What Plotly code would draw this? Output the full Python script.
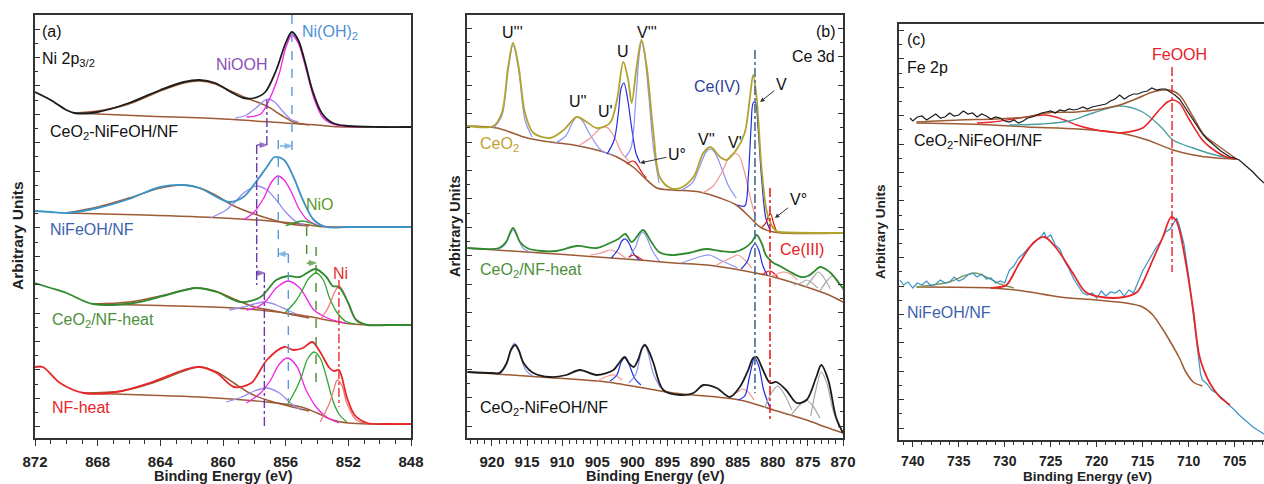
import plotly.graph_objects as go

# ---------------- Panel (a): Ni 2p3/2 ----------------
# 1) CeO2-NiFeOH/NF
a1_E = [872, 871, 870, 869.5, 868, 866, 864, 862.5, 861.5, 860.5, 859.5, 858.7, 858, 857.3, 856.6, 856, 855.6, 855.2, 854.8, 854.3, 853.7, 853, 852, 850, 848]
a1_I = [346, 338, 328, 325, 326, 335, 348, 356, 358, 355, 346, 340, 340, 346, 368, 395, 406, 398, 378, 348, 325, 315, 312, 311, 311]
a1_bg_E = [869.5, 865, 860, 856, 854, 853, 852, 848]
a1_bg_I = [325, 322, 319, 315, 313, 311.5, 311, 311]
a1_sat_E = [869.5, 868, 866, 864, 862.5, 861.5, 860.5, 859.5, 858.5, 857.2, 856.3, 855.5, 854.5]
a1_sat_I = [325, 327, 334, 347, 355, 357, 354, 347, 340, 332, 323, 316, 313]
a1_nooh_E = [859.2, 858.5, 857.9, 857.4, 857.1, 856.7, 856.2, 855.7, 855.2]
a1_nooh_I = [320, 323, 330, 337, 339, 336, 327, 319, 316]
a1_noh_E = [858.5, 857.6, 857.0, 856.4, 856.0, 855.6, 855.2, 854.8, 854.2, 853.6, 852.8, 851.5]
a1_noh_I = [321, 324, 340, 365, 390, 403, 395, 375, 340, 320, 313, 311]

# 2) NiFeOH/NF
a2_E = [872, 871, 870, 868, 866, 864, 862.5, 861.5, 860.4, 859.6, 858.7, 857.9, 857.2, 856.7, 856.1, 855.5, 854.9, 854.2, 853.4, 852, 850, 848]
a2_I = [227, 226, 225, 230, 239, 251, 253, 250, 241, 236, 241, 256, 271, 281, 278, 261, 238, 218, 211, 211, 211, 211]
a2_bg_E = [870, 865, 860, 857, 855, 853.8, 852, 848]
a2_bg_I = [225, 223, 220, 217, 214, 211.5, 211, 211]
a2_sat_E = [870, 868, 866, 864, 862.5, 861.5, 860.5, 859.3, 858, 857, 855.8, 854.5]
a2_sat_I = [225, 231, 240, 250, 253, 250, 243, 232, 224, 219, 214, 212]
a2_nooh_E = [860.8, 859.8, 859.3, 858.6, 857.85, 857.2, 856.6, 856.0, 855.4, 854.8]
a2_nooh_I = [220, 228, 235, 246, 252, 248, 238, 226, 217, 213]
a2_noh_E = [858.7, 858.0, 857.4, 856.9, 856.5, 856.1, 855.7, 855.1, 854.6, 854.0, 853.2]
a2_noh_I = [218, 226, 240, 256, 262, 258, 248, 228, 218, 213, 211]
a2_nio_E = [856.0, 855.3, 854.9, 854.4, 853.8]
a2_nio_I = [212, 216, 217, 215, 211]

# 3) CeO2/NF-heat
a3_E = [872, 871, 870, 868.3, 865.7, 863.6, 861.7, 860.4, 858.9, 857.6, 856.6, 855.85, 855.1, 854.1, 853.4, 853.0, 852.6, 852.0, 851.5, 850.8, 849.5, 848]
a3_I = [155, 150, 145, 134, 135, 143, 150, 146, 136, 141, 158, 162, 161, 169, 161, 152, 151, 135, 118, 113, 113, 113]
a3_bg_E = [868.3, 864, 859.3, 855.1, 853, 851.8, 850.5, 848]
a3_bg_I = [134, 132.5, 130, 123, 117, 114, 113, 113]
a3_sat_E = [868.3, 866, 864, 862.5, 861.7, 860.5, 859.3, 858, 857, 855.5, 854.5]
a3_sat_I = [134, 136, 142, 148, 150, 147, 139, 131, 128, 123, 120]
a3_nooh_E = [859.6, 858.7, 858.0, 857.3, 856.6, 855.9, 855.3]
a3_nooh_I = [128, 131, 134, 136, 133, 128, 124]
a3_noh_E = [858.5, 857.8, 857.2, 856.6, 855.85, 855.1, 854.2, 853.6, 853.0, 852.2]
a3_noh_I = [128, 131, 138, 150, 157, 150, 128, 122, 118, 115]
a3_nio_E = [856.0, 855.4, 855.0, 854.5, 854.05, 853.6, 853.2, 852.7, 852.2, 851.6]
a3_nio_I = [126, 136, 146, 160, 165, 158, 140, 125, 117, 114]
a3_ni_E = [853.8, 853.3, 852.9, 852.6, 852.3, 852.0, 851.6, 851.0]
a3_ni_I = [118, 130, 145, 152, 146, 134, 120, 114]

# 4) NF-heat
a4_E = [872, 871.5, 870.4, 868.9, 866.8, 864.7, 862.5, 861.5, 860.4, 859.3, 858.2, 857.2, 856.1, 855.5, 854.9, 854.3, 853.8, 853.2, 852.9, 852.6, 852.1, 851.6, 850.8, 849.5, 848]
a4_I = [71, 71, 55, 45, 46, 55, 68, 71, 65, 51, 55, 78, 91, 88, 90, 96, 86, 70, 67, 68, 41, 23, 15, 14, 14]
a4_bg_E = [868.9, 865, 861.5, 857.2, 855, 854, 853, 852, 850.5, 848]
a4_bg_I = [45, 43, 41, 36, 31, 25, 18, 15, 14, 14]
a4_sat_E = [868.9, 866.5, 864.5, 862.5, 861.5, 860.4, 859.3, 858.2, 857, 855.8, 854.5]
a4_sat_I = [45, 47, 55, 67, 71, 66, 55, 44, 37, 32, 27]
a4_nooh_E = [859.8, 858.8, 858.0, 857.2, 856.4, 855.7, 855.0]
a4_nooh_I = [36, 41, 47, 50, 45, 35, 28]
a4_noh_E = [858.5, 857.6, 857.0, 856.4, 855.9, 855.3, 854.7, 854.0, 853.4, 852.6]
a4_noh_I = [35, 45, 57, 74, 80, 72, 48, 30, 21, 15]
a4_nio_E = [855.9, 855.3, 855.0, 854.6, 854.2, 853.8, 853.4, 853.0, 852.6, 852.1]
a4_nio_I = [33, 50, 61, 79, 86, 80, 61, 38, 24, 16]
a4_ni_E = [853.8, 853.2, 852.9, 852.7, 852.4, 852.1, 851.5, 850.8]
a4_ni_I = [16, 35, 50, 58, 52, 35, 18, 15]

# reference lines panel (a): energy, top, bottom
a_ref_E = [855.6, 857.2, 857.85, 856.47, 855.83, 857.36, 854.66, 854.06, 852.6]
a_ref_top = [423, 338, 293, 298, 184, 165, 211, 191, 158]
a_ref_bot = [285, 290, 153, 181, 38, 11, 175, 48, 31]
a_ref_style = ["nioh", "niooh", "niooh", "nioh", "nioh", "niooh", "nio", "nio", "ni"]
# shift arrows panel (a): from, to, level
a_arr_from = [856.36, 857.85, 855.83, 857.9, 854.66]
a_arr_to = [855.6, 857.2, 856.47, 857.36, 854.06]
a_arr_I = [292, 293, 184, 165, 175]
a_arr_style = ["nioh", "niooh", "nioh", "niooh", "nio"]

# ---------------- Panel (b): Ce 3d ----------------
b1_E = [923.5, 919.8, 918.6, 917.7, 917.0, 916.2, 915.3, 914.1, 911.7, 909.8, 907.9, 906.5, 905.1, 903.2, 902.2, 901.3, 900.6, 900.1, 899.4, 898.7, 897.96, 897.0, 896.1, 894.6, 893.2, 891.3, 889.9, 888.9, 887.5, 886.6, 885.2, 884.0, 883.3, 882.8, 882.3, 881.6, 880.9, 880.2, 879.5, 879.0, 870.0]
b1_I = [312, 312, 325, 371, 395, 371, 325, 305, 300, 308, 321, 316, 310, 315, 338, 376, 358, 335, 371, 398, 371, 305, 261, 250, 250, 261, 285, 291, 281, 278, 288, 305, 338, 363, 340, 270, 228, 213, 207, 206, 205]
b1_bg_E = [923.5, 919.3, 915.0, 911.7, 908.4, 905.1, 902.2, 899.9, 898.4, 896.5, 894.2, 890.4, 887.5, 885.2, 883.3, 881.8, 879.9, 870]
b1_bg_I = [312, 310, 300, 296, 293, 288, 281, 271, 261, 250, 248, 246, 240, 233, 221, 211, 206, 205]
b1_comps = {
    "U3": ([919.8, 918.6, 917.7, 917.0, 916.2, 915.3, 914.3], [310, 322, 368, 393, 368, 318, 301], "lb"),
    "U2": ([911, 909.5, 908.5, 907.9, 907.2, 906, 904.5, 903], [295, 302, 316, 321, 318, 303, 288, 283], "lb"),
    "U1": ([907.5, 906, 905, 904.3, 903.5, 902.5, 901.5, 900.5], [293, 300, 307, 311, 310, 300, 285, 277], "lr"),
    "U": ([903.6, 902.6, 902.0, 901.6, 901.2, 900.7, 900.1, 899.5, 898.9], [284, 298, 325, 350, 355, 340, 310, 285, 275], "db"),
    "V3": ([901, 900.2, 899.5, 899.0, 898.7, 898.3, 897.7, 897.0, 896.2], [281, 290, 340, 385, 396, 385, 345, 290, 255], "lb"),
    "U0": ([900.8, 900.0, 899.6, 899.2, 898.6, 898.0], [274, 277, 276, 272, 265, 260], "rd"),
    "V2": ([893, 891.5, 890.5, 889.5, 888.9, 888.3, 887.3, 886.3, 885.2], [248, 255, 270, 286, 289, 286, 270, 252, 240], "lb"),
    "V1": ([890, 888.5, 887.3, 886.3, 885.5, 884.8, 884.0, 883.2, 882.5], [245, 252, 265, 280, 285, 282, 265, 240, 222], "lr"),
    "V": ([885.0, 884.0, 883.5, 883.1, 882.8, 882.5, 882.1, 881.6, 881.0, 880.4], [233, 232, 260, 310, 335, 336, 310, 260, 220, 208], "db"),
    "V0": ([881.5, 881.0, 880.6, 880.3, 879.9, 879.5], [211, 215, 222, 224, 215, 207], "rd"),
}

b2_E = [923.5, 919.0, 918.0, 917.0, 916.0, 915.0, 913.0, 910.8, 907.9, 905.1, 903.2, 902.0, 901.0, 900.1, 898.5, 897.3, 896.2, 894.5, 892.0, 889.5, 887.5, 885.5, 884.0, 883.0, 882.3, 881.6, 881.0, 880.4, 879.9, 879.0, 877.5, 876.0, 875.0, 874.2, 873.3, 872.5, 871.6, 870.5, 870.0]
b2_I = [190, 190, 196, 210, 196, 190, 187, 187, 192, 190, 195, 199, 204, 196, 208, 196, 186, 183, 185, 189, 187, 186, 190, 196, 203, 195, 183, 178, 175, 172, 166, 161, 162, 166, 171, 169, 164, 154, 150]
b2_bg_E = [923.5, 913, 905, 899, 894, 889.4, 884.7, 879.9, 875.2, 872, 870]
b2_bg_I = [190, 185, 181, 178, 175, 173, 168, 161, 151, 143, 136]
b2_comps = {
    "U3": ([919.5, 918.2, 917.5, 917.0, 916.5, 915.6, 914.5], [188, 193, 203, 208, 203, 190, 186], "lb"),
    "U1": ([906, 904.5, 903.2, 902, 901], [183, 185, 188, 185, 180], "lr"),
    "U": ([903, 902, 901.5, 901.0, 900.5, 899.8, 899], [180, 189, 197, 199, 195, 184, 178], "db"),
    "V3": ([900.5, 899.5, 899, 898.5, 898, 897.2, 896.2], [180, 192, 202, 206, 201, 188, 177], "lb"),
    "U0": ([900.5, 899.8, 899.2, 898.6], [181, 183, 181, 178], "rd"),
    "V2": ([893, 890, 889, 887.5, 885], [175, 182, 183, 178, 170], "lb"),
    "V1": ([888, 886, 885, 884, 883], [173, 180, 183, 178, 170], "lr"),
    "V": ([884.5, 883.6, 883.0, 882.5, 882.0, 881.4, 880.8], [169, 177, 190, 194, 188, 172, 163], "db"),
    "V0": ([881.5, 880.9, 880.4, 879.9, 879.3], [163, 166, 167, 165, 161], "rd"),
    "X1": ([880, 878.5, 877.5, 876.5], [162, 166, 164, 158], "lr"),
    "G1": ([877, 876, 875.2, 874.4, 873.6], [153, 155, 158, 155, 150], "gr"),
    "G2": ([875.3, 874.3, 873.5, 872.7, 871.8], [151, 160, 166, 160, 149], "gr"),
    "G3": ([873.3, 872.3, 871.5, 870.7, 870.0], [147, 157, 162, 157, 148], "gr"),
}

b3_E = [923.5, 920.0, 918.9, 917.9, 917.3, 916.7, 916.2, 915.5, 914.1, 911.7, 909.4, 907.5, 905.1, 902.7, 901.8, 901.1, 900.4, 899.8, 899.2, 898.6, 898.2, 897.6, 897.0, 895.6, 893.2, 891.3, 889.9, 888.0, 886.1, 884.7, 883.5, 882.8, 882.3, 881.4, 880.4, 879.5, 878.1, 876.6, 875.2, 873.8, 873.1, 872.1, 871.0, 870.0]
b3_I = [66, 65, 65, 75, 88, 93, 88, 75, 65, 61, 63, 68, 63, 68, 76, 81, 74, 71, 78, 90, 93, 86, 75, 48, 43, 45, 53, 50, 41, 51, 68, 80, 81, 68, 55, 56, 48, 35, 38, 61, 73, 58, 21, 5]
b3_bg_E = [923.5, 913.2, 903.7, 894.2, 884.7, 879.9, 875.2, 872.5, 870]
b3_bg_I = [66, 61, 56, 45, 38, 28, 18, 11, 5]
b3_comps = {
    "U3": ([919.5, 918.2, 917.4, 916.8, 916.2, 915.2, 914.2], [64, 70, 87, 95, 87, 68, 62], "lb"),
    "U1": ([905, 903.5, 902.5, 901.5], [57, 62, 63, 58], "lr"),
    "U": ([903.2, 902.2, 901.6, 901.1, 900.5, 899.7, 898.8], [57, 63, 76, 80, 74, 60, 53], "db"),
    "V3": ([900.5, 899.5, 898.8, 898.3, 897.8, 897.0, 896.0], [55, 64, 85, 94, 86, 64, 50], "lb"),
    "V1": ([886.5, 885.2, 884.3, 883.5, 882.7], [40, 45, 49, 46, 38], "lr"),
    "V": ([885, 884, 883.3, 882.6, 882.0, 881.3, 880.4], [38, 42, 62, 80, 72, 48, 30], "db"),
    "G1": ([881.2, 880.2, 879.3, 878.3, 877.3], [30, 45, 52, 43, 28], "gr"),
    "G2": ([877.5, 876.3, 875.3, 874.3, 873.3], [22, 32, 38, 32, 20], "gr"),
    "G3": ([874.6, 873.8, 873.1, 872.3, 871.5, 870.5], [22, 50, 66, 55, 30, 10], "gr"),
}
b_ref_E = [882.54, 880.4]
b_ref_top = [388, 250]
b_ref_bot = [45, 18]
b_ref_style = ["ce4", "ce3"]

# ---------------- Panel (c): Fe 2p ----------------
c1_E = [740.3, 740.0, 739.5, 739.0, 738.5, 738.0, 737.5, 737.0, 736.5, 736.0, 735.5, 735.0, 734.5, 734.0, 733.5, 733.0, 732.5, 732.0, 731.5, 731.0, 730.5, 730.0, 729.5, 729.0, 728.5, 728.0, 727.5, 727.0, 726.5, 726.0, 725.5, 725.0, 724.5, 724.0, 723.5, 723.0, 722.5, 722.0, 721.5, 721.0, 720.5, 720.0, 719.5, 719.0, 718.5, 718.0, 717.5, 717.0, 716.5, 716.0, 715.5, 715.0, 714.5, 714.0, 713.5, 713.0, 712.5, 712.0, 711.5, 711.0, 710.5, 710.0, 709.5, 709.0, 708.5, 708.0, 707.5, 707.0, 706.5, 706.0, 705.5, 705.0, 704.5, 704.0, 703.5, 703.0, 702.5, 702.0, 701.8]
c1_I = [322, 319, 323, 324, 320, 323, 326, 322, 323, 327, 324, 325, 329, 326, 327, 323, 326, 324, 321, 323, 322, 319, 318, 320, 317, 319, 322, 323, 325, 327, 328, 329, 327, 330, 329, 331, 330, 331, 333, 331, 333, 334, 335, 336, 339, 341, 345, 341, 344, 346, 346, 348, 349, 352, 350, 351, 351, 348, 345, 341, 334, 327, 319, 313, 306, 301, 297, 293, 289, 286, 283, 282, 280, 276, 272, 268, 263, 259, 257]
c1_bg_E = [739.6, 731.3, 727.6, 722, 717.5, 714.5, 711.7, 709.5, 707, 704.8]
c1_bg_I = [317, 315, 313, 311, 307, 300, 290, 285, 282, 281]
c1_fit_E = [739.6, 735, 731, 727.6, 725.5, 722.2, 719.5, 717.5, 715.5, 713.9, 712.1, 711, 709.5, 708.3, 706.6, 704.8]
c1_fit_I = [318, 320, 321, 323, 327, 328, 331, 335, 342, 348, 350, 345, 323, 305, 293, 281]
c1_teal_E = [729.5, 726, 723, 720.4, 717.5, 715, 713, 711.7, 709.5, 707.5, 705.5, 704.8]
c1_teal_I = [315, 316, 319, 327, 334, 328, 313, 300, 292, 286, 282, 281]
c1_feooh_E = [717.5, 715, 713.2, 712.3, 711.7, 711.0, 709.9, 708.5, 707.7, 705.9, 704.8]
c1_feooh_I = [307, 312, 330, 338, 340, 337, 320, 300, 293, 283, 281]
c1_sat_E = [733, 731.3, 728.4, 725.5, 723.5, 722.2, 720, 717.5]
c1_sat_I = [317, 318, 322, 325, 320, 315, 310, 307]

c2_E = [741.4, 741.0, 740.5, 740.0, 739.5, 739.0, 738.5, 738.0, 737.5, 737.0, 736.5, 736.0, 735.5, 735.0, 734.5, 734.0, 733.5, 733.0, 732.5, 732.0, 731.5, 731.0, 730.5, 730.0, 729.5, 729.0, 728.5, 728.0, 727.5, 727.0, 726.5, 726.0, 725.7, 725.5, 725.0, 724.5, 724.0, 723.5, 723.0, 722.5, 722.0, 721.5, 721.0, 720.5, 720.0, 719.5, 719.0, 718.5, 718.0, 717.5, 717.0, 716.5, 716.0, 715.5, 715.0, 714.5, 714.0, 713.5, 713.0, 712.5, 712.0, 711.5, 711.3, 711.0, 710.5, 710.0, 709.5, 709.0, 708.7, 708.5, 708.0, 707.5, 707.0, 706.5, 706.0, 705.5, 705.0, 704.5, 704.0, 703.5, 703.0, 702.5, 702.0, 701.8]
c2_I = [160, 155, 158, 152, 157, 155, 159, 154, 156, 160, 157, 158, 163, 159, 161, 165, 167, 163, 166, 161, 162, 157, 159, 157, 170, 174, 182, 186, 191, 196, 200, 204, 208, 202, 205, 195, 191, 179, 171, 161, 154, 147, 145, 147, 142, 149, 144, 148, 147, 150, 144, 150, 147, 159, 169, 177, 185, 193, 199, 208, 211, 219, 222, 214, 196, 164, 126, 86, 66, 60, 56, 50, 47, 43, 39, 34, 30, 25, 21, 17, 13, 10, 7, 6]
c2_bg_E = [739.6, 731.3, 728, 724, 720, 716.8, 715, 713.9, 712.9, 712.1, 711, 710.3, 709.5, 708.5]
c2_bg_I = [153, 152, 149, 143, 140, 137, 133, 125, 112, 100, 82, 68, 58, 54]
c2_fit_E = [731.5, 730.5, 729.8, 728.4, 726.9, 725.7, 724.4, 722.6, 721.2, 719.5, 717, 715.6, 715.0, 713.9, 712.8, 711.9, 711.4, 711.0, 710.3, 709.5, 708.8, 707.7, 706.6, 705.5]
c2_fit_I = [152, 153, 155, 177, 197, 203, 192, 167, 148, 143, 143, 148, 157, 180, 203, 223, 220, 210, 177, 130, 83, 57, 43, 35]
c2_sat_E = [739.6, 736, 734.5, 733.2, 732, 730.5, 729]
c2_sat_I = [153, 158, 164, 167, 163, 156, 152]
c_ref_E = [711.8]
c_ref_top = [373]
c_ref_bot = [168]

# ---------------- styling ----------------
FONT = "Liberation Sans, Arial, sans-serif"
BROWN = "#9c5b34"
COL = {
    "black": "#1c1c1c", "nifeoh": "#3a92c6", "green": "#2f8a2f", "red": "#e8262a",
    "mag": "#f024e6", "lav": "#9a8cf0", "nio": "#2fa52f", "nilight": "#f07a7a",
    "olive": "#b1a42e", "lb": "#8c95f0", "db": "#1f2fe0", "lr": "#f59494", "rd": "#e01010",
    "gr": "#a8a8a8", "teal": "#4a9fa0", "satg": "#7f9a55",
}
REF = {
    "nioh": ("#5a9ad8", "dash"), "niooh": ("#6a3aa8", "dashdot"), "nio": ("#4a8a2a", "dash"),
    "ni": ("#e83030", "dashdot"), "ce4": ("#4a6a8a", "dashdot"), "ce3": ("#e82020", "dashdot"),
}

fig = go.Figure()


def axes_of(ax):
    return ("x", "y") if ax == 1 else (f"x{ax}", f"y{ax}")


def add(E, I, color, width, ax, shape="spline"):
    xa, ya = axes_of(ax)
    line = dict(color=color, width=width, shape=shape)
    if shape == "spline":
        line["smoothing"] = 0.9
    fig.add_trace(go.Scatter(x=E, y=I, mode="lines", line=line, xaxis=xa, yaxis=ya,
                             hoverinfo="skip", showlegend=False))


def refline(E, top, bot, color, dash, ax, width=1.4):
    xa, ya = axes_of(ax)
    fig.add_trace(go.Scatter(x=[E, E], y=[top, bot], mode="lines",
                             line=dict(color=color, width=width, dash=dash),
                             xaxis=xa, yaxis=ya, hoverinfo="skip", showlegend=False))


def shift_arrow(e0, e1, lv, color, ax):
    xa, ya = axes_of(ax)
    fig.add_trace(go.Scatter(x=[e0, e1], y=[lv, lv], mode="lines+markers",
                             line=dict(color=color, width=1.2),
                             marker=dict(symbol=["line-ns", "arrow"], size=[7, 7], angleref="previous",
                                         color=color, line=dict(color=color, width=1.2)),
                             xaxis=xa, yaxis=ya, hoverinfo="skip", showlegend=False))


# panel a
for (E, I, col, bgE, bgI, sE, sI, comps) in [
    (a1_E, a1_I, COL["black"], a1_bg_E, a1_bg_I, a1_sat_E, a1_sat_I,
     [(a1_nooh_E, a1_nooh_I, COL["lav"]), (a1_noh_E, a1_noh_I, COL["mag"])]),
    (a2_E, a2_I, COL["nifeoh"], a2_bg_E, a2_bg_I, a2_sat_E, a2_sat_I,
     [(a2_nooh_E, a2_nooh_I, COL["lav"]), (a2_noh_E, a2_noh_I, COL["mag"]), (a2_nio_E, a2_nio_I, COL["nio"])]),
    (a3_E, a3_I, COL["green"], a3_bg_E, a3_bg_I, a3_sat_E, a3_sat_I,
     [(a3_nooh_E, a3_nooh_I, COL["lav"]), (a3_noh_E, a3_noh_I, COL["mag"]), (a3_nio_E, a3_nio_I, COL["nio"]),
      (a3_ni_E, a3_ni_I, COL["nilight"])]),
    (a4_E, a4_I, COL["red"], a4_bg_E, a4_bg_I, a4_sat_E, a4_sat_I,
     [(a4_nooh_E, a4_nooh_I, COL["lav"]), (a4_noh_E, a4_noh_I, COL["mag"]), (a4_nio_E, a4_nio_I, COL["nio"]),
      (a4_ni_E, a4_ni_I, COL["nilight"])]),
]:
    add(bgE, bgI, BROWN, 1.5, 1)
    add(sE, sI, BROWN, 1.5, 1)
    for cE, cI, cc in comps:
        add(cE, cI, cc, 1.3, 1)
    add(E, I, col, 1.8, 1)

for E, t, b, s in zip(a_ref_E, a_ref_top, a_ref_bot, a_ref_style):
    c, d = REF[s]
    refline(E, t, b, c, d, 1)
for f, t, lv, s in zip(a_arr_from, a_arr_to, a_arr_I, a_arr_style):
    shift_arrow(f, t, lv, REF[s][0], 1)

# panel b
for (E, I, col, bgE, bgI, comps) in [
    (b1_E, b1_I, COL["olive"], b1_bg_E, b1_bg_I, b1_comps),
    (b2_E, b2_I, COL["green"], b2_bg_E, b2_bg_I, b2_comps),
    (b3_E, b3_I, COL["black"], b3_bg_E, b3_bg_I, b3_comps),
]:
    add(bgE, bgI, BROWN, 1.5, 2)
    for key, (cE, cI, ck) in comps.items():
        add(cE, cI, COL[ck], 1.2, 2)
    add(E, I, col, 1.8, 2)

for E, t, b, s in zip(b_ref_E, b_ref_top, b_ref_bot, b_ref_style):
    c, d = REF[s]
    refline(E, t, b, c, d, 2, width=1.6)

# panel c
add(c1_bg_E, c1_bg_I, BROWN, 1.5, 3)
add(c1_sat_E, c1_sat_I, COL["red"], 1.4, 3)
add(c1_teal_E, c1_teal_I, COL["teal"], 1.4, 3)
add(c1_feooh_E, c1_feooh_I, COL["red"], 1.6, 3)
add(c1_fit_E, c1_fit_I, BROWN, 1.5, 3)
add(c1_E, c1_I, COL["black"], 1.2, 3, shape="linear")
add(c2_bg_E, c2_bg_I, BROWN, 1.5, 3)
add(c2_sat_E, c2_sat_I, COL["satg"], 1.4, 3)
add(c2_E, c2_I, COL["nifeoh"], 1.2, 3, shape="linear")
add(c2_fit_E, c2_fit_I, COL["red"], 1.8, 3)
for E, t, b in zip(c_ref_E, c_ref_top, c_ref_bot):
    refline(E, t, b, "#e8202a", "dashdot", 3)

# ---------------- axes ----------------
def xax(domain, rng, tick0, dtick, anchor, mirror=True, fs=15, tl=6, so=3):
    return dict(domain=domain, range=rng, anchor=anchor, showgrid=False, zeroline=False,
                showline=True, linecolor="#333", linewidth=1.5, mirror=mirror, automargin=False,
                ticks="outside", ticklen=tl, tickwidth=1.2, tickcolor="#333",
                tickmode="linear", tick0=tick0, dtick=dtick, ticklabelstandoff=so,
                tickfont=dict(family=FONT, size=fs, color="#222", weight="bold"),
                minor=dict(dtick=1, tick0=tick0, ticks="outside", ticklen=tl - 2, tickwidth=1, tickcolor="#333",
                           showgrid=False))


def yax(domain, rng, tick0, anchor, mirror=True):
    return dict(domain=domain, range=rng, anchor=anchor, showgrid=False, zeroline=False,
                showline=True, linecolor="#333", linewidth=1.5, mirror=mirror, automargin=False,
                showticklabels=False, ticks="inside", ticklen=5, tickwidth=1, tickcolor="#333",
                tickmode="linear", tick0=tick0, dtick=28.4,
                minor=dict(dtick=14.2, tick0=tick0, ticks="inside", ticklen=3, tickwidth=1,
                           tickcolor="#333", showgrid=False))


ydom_ab = [46 / 484, 469 / 484]
ydom_c = [44 / 484, 460 / 484]
fig.update_layout(
    width=1264, height=484, margin=dict(l=0, r=0, t=0, b=0, pad=0), autosize=False,
    paper_bgcolor="white", plot_bgcolor="white", showlegend=False,
    xaxis=xax([35 / 1264, 411 / 1264], [872, 848], 848, 4, "y"),
    yaxis=yax(ydom_ab, [0, 423], 11.4, "x"),
    xaxis2=xax([467 / 1264, 843 / 1264], [923.56, 870], 870, 5, "y2"),
    yaxis2=yax(ydom_ab, [0, 423], 12, "x2", mirror="allticks"),
    xaxis3=xax([899 / 1264, 1.0], [741.5, 701.8], 705, 5, "y3", fs=14, tl=5, so=2),
    yaxis3=yax(ydom_c, [0, 416], 12, "x3", mirror=False),
)

# ---------------- text ----------------
ann = []


def txt(x, y, s, ax, color="#111", size=16, xanchor="center", yanchor="middle"):
    xr, yr = axes_of(ax)
    ann.append(dict(x=x, y=y, xref=xr, yref=yr, text=s, showarrow=False, xanchor=xanchor, yanchor=yanchor,
                    font=dict(family=FONT, size=size, color=color)))


def arrow(x0, y0, x1, y1, ax, color, text, size=16, head=2, asize=1.0, awidth=1.0):
    xr, yr = axes_of(ax)
    ann.append(dict(x=x1, y=y1, ax=x0, ay=y0, xref=xr, yref=yr, axref=xr, ayref=yr, text=text,
                    showarrow=True, arrowhead=head, arrowsize=asize, arrowwidth=awidth, arrowcolor=color,
                    font=dict(family=FONT, size=size, color="#111")))


# panel a labels
txt(871.68, 406, "(a)", 1, xanchor="left")
txt(871.68, 378, "Ni 2p<sub>3/2</sub>", 1, xanchor="left")
txt(858.79, 373, "NiOOH", 1, color="#8a4fb8")
txt(855.09, 405, "Ni(OH)<sub>2</sub>", 1, color="#4d8fd6", xanchor="left")
txt(871.17, 305, "CeO<sub>2</sub>-NiFeOH/NF", 1, xanchor="left")
txt(871.17, 208, "NiFeOH/NF", 1, color="#3d62ad", xanchor="left")
txt(853.81, 233, "NiO", 1, color="#5a9a2a")
txt(871.04, 118, "CeO<sub>2</sub>/NF-heat", 1, color="#4a8f3a", xanchor="left")
txt(852.53, 165, "Ni", 1, color="#e83030")
txt(871.04, 31, "NF-heat", 1, color="#e8262a", xanchor="left")

# panel b labels
txt(872.4, 406, "(b)", 2)
txt(870.9, 381, "Ce 3d", 2, xanchor="right")
txt(917.01, 405, "U'''", 2)
txt(907.75, 336, "U''", 2)
txt(903.9, 326, "U'", 2)
txt(901.3, 386, "U", 2)
txt(897.9, 405, "V'''", 2)
txt(889.4, 298, "V''", 2)
txt(885.4, 295, "V'", 2)
txt(887.95, 351, "Ce(IV)", 2, color="#2b3f9a")
txt(921.99, 293, "CeO<sub>2</sub>", 2, color="#c0a030", xanchor="left")
txt(879.26, 188, "Ce(III)", 2, color="#e82020", xanchor="left")
txt(921.99, 168, "CeO<sub>2</sub>/NF-heat", 2, color="#4a8f3a", xanchor="left")
txt(921.99, 30, "CeO<sub>2</sub>-NiFeOH/NF", 2, xanchor="left")
arrow(893.65, 283, 898.9, 275, 2, "#333", "U°", head=2, asize=0.9)
arrow(878.8, 353, 881.8, 336, 2, "#333", "V", head=2, asize=0.9)
arrow(876.4, 238, 879.7, 220, 2, "#333", "V°", head=2, asize=0.9)

# panel c labels
txt(740.87, 400, "(c)", 3, xanchor="left")
txt(740.87, 372, "Fe 2p", 3, xanchor="left")
txt(711.0, 385, "FeOOH", 3, color="#e8202a")
txt(740.1, 298, "CeO<sub>2</sub>-NiFeOH/NF", 3, xanchor="left")
txt(740.87, 128, "NiFeOH/NF", 3, color="#3d62ad", xanchor="left")

# axis titles
for xp, yp, fs in [(18, 236, 15.5), (455, 226, 14.5), (881, 232, 13.5)]:
    ann.append(dict(x=xp / 1264, y=1 - yp / 484, xref="paper", yref="paper", text="<b>Arbitrary Units</b>",
                    showarrow=False, textangle=-90, xanchor="center", yanchor="middle",
                    font=dict(family=FONT, size=fs, color="#222")))
for xp, yp, fs in [(223, 475.5, 14.5), (655, 475.5, 14.5), (1087, 476.5, 13.5)]:
    ann.append(dict(x=xp / 1264, y=1 - yp / 484, xref="paper", yref="paper", text="<b>Binding Energy (eV)</b>",
                    showarrow=False, xanchor="center", yanchor="middle",
                    font=dict(family=FONT, size=fs, color="#222")))

fig.update_layout(annotations=ann)
fig.write_html("out.html", config={"responsive": False},
               post_script="document.body.style.margin='0px';document.body.style.padding='0px';document.body.style.overflow='hidden';")
